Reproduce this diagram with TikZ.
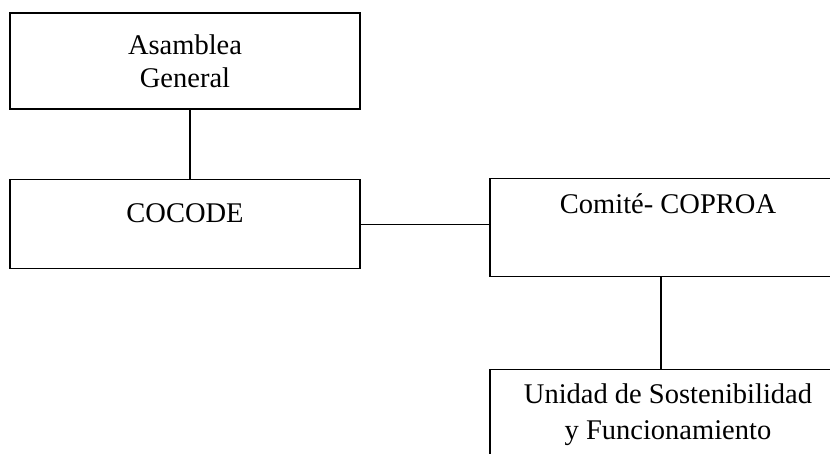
\documentclass[tikz,border=0pt]{standalone}
\usepackage{fontspec}
\setmainfont{Liberation Serif}
\begin{document}
\begin{tikzpicture}[x=1pt, y=-1pt, line width=1.3pt,
  main/.style = {draw, rectangle, inner sep=0pt, font=\fontsize{28.5}{33}\selectfont, align=center}]
\useasboundingbox (0,0) rectangle (830,453);
\clip (0,0) rectangle (830,453);
\node[main, minimum width=350pt, minimum height=96pt] (ag) at (185,61) {Asamblea\\General};
\node[main, anchor=north, minimum width=350pt, text height=43pt, text depth=46pt] (cocode) at (185,179) {COCODE};
\node[main, anchor=north, minimum width=356pt, text height=35pt, text depth=63pt] (coproa) at (668,178) {Comité- COPROA};
\node[main, anchor=north, minimum width=356pt, minimum height=90pt] (usf) at (668,369) {Unidad de Sostenibilidad\\[3pt]y Funcionamiento};
\draw ([xshift=5pt]ag.south) -- ([xshift=5pt]cocode.north);
\draw (cocode.east) -- (cocode.east -| coproa.west);
\draw ([xshift=-7pt]coproa.south) -- ([xshift=-7pt]usf.north);
\end{tikzpicture}
\end{document}
